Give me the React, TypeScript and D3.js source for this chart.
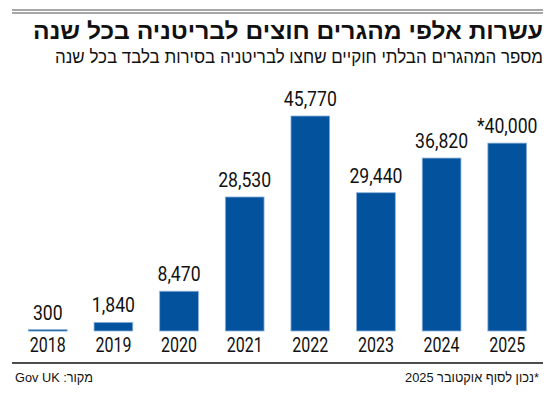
import React from 'react';
import * as d3 from 'd3';

// years on the x axis and migrants arriving by small boat
const years = ['2018', '2019', '2020', '2021', '2022', '2023', '2024', '2025'];
const migrants = [300, 1840, 8470, 28530, 45770, 29440, 36820, 40000];
const valueLabels = ['300', '1,840', '8,470', '28,530', '45,770', '29,440', '36,820', '*40,000'];

const title = 'עשרות אלפי מהגרים חוצים לבריטניה בכל שנה';
const subtitle = 'מספר המהגרים הבלתי חוקיים שחצו לבריטניה בסירות בלבד בכל שנה';
const source = 'Gov UK :מקור';
const note = '*נכון לסוף אוקטובר 2025';

const width = 550;
const height = 396;
const hebrew = '"Liberation Sans", "DejaVu Sans", sans-serif';
const digits = 'Roboto, "Liberation Sans", sans-serif';

function App() {
  const x = d3
    .scaleBand<string>()
    .domain(years)
    .range([12, 543])
    .paddingInner(0.41)
    .paddingOuter(0.25);

  const y = d3
    .scaleLinear()
    .domain([0, d3.max(migrants) as number])
    .range([331, 116]);

  return (
    <svg
      width={width}
      height={height}
      style={{ position: 'absolute', left: 0, top: 0, background: '#fff' }}
    >
      {/* top double rule */}
      <line x1={12} x2={543} y1={10} y2={10} stroke="#8a8a8a" strokeWidth={1.5} />
      <line x1={12} x2={543} y1={13} y2={13} stroke="#8a8a8a" strokeWidth={1.5} />

      <text
        x={543}
        y={39}
        textAnchor="end"
        fontFamily={hebrew}
        fontWeight="bold"
        fontSize={23}
        textLength={510}
        lengthAdjust="spacingAndGlyphs"
        fill="#111"
      >
        {title}
      </text>
      <text
        x={543}
        y={63}
        textAnchor="end"
        fontFamily={hebrew}
        fontSize={18}
        textLength={488}
        lengthAdjust="spacingAndGlyphs"
        fill="#111"
      >
        {subtitle}
      </text>

      {migrants.map((v, i) => {
        const yr = years[i];
        const cx = (x(yr) as number) + x.bandwidth() / 2;
        const top = y(v);
        return (
          <g key={yr}>
            <rect
              x={x(yr)}
              y={top}
              width={x.bandwidth()}
              height={Math.max(1.5, y(0) - top)}
              fill="#02529e"
              stroke="#8db2dc"
              strokeWidth={0.8}
            />
            <text
              transform={`translate(${cx},${top - 10}) scale(0.84,1)`}
              textAnchor="middle"
              fontFamily={digits}
              fontSize={21}
              fill="#111"
            >
              {valueLabels[i]}
            </text>
            <text
              transform={`translate(${cx},352) scale(0.8,1)`}
              textAnchor="middle"
              fontFamily={digits}
              fontSize={20}
              fill="#111"
            >
              {yr}
            </text>
          </g>
        );
      })}

      {/* bottom rule */}
      <line x1={12} x2={543} y1={363} y2={363} stroke="#111" strokeWidth={1.5} />

      <text
        x={15}
        y={382}
        textAnchor="start"
        fontFamily={hebrew}
        fontSize={13.5}
        textLength={78}
        lengthAdjust="spacingAndGlyphs"
        fill="#111"
      >
        {source}
      </text>
      <text
        x={539}
        y={382}
        direction="rtl"
        textAnchor="start"
        fontFamily={hebrew}
        fontSize={13.5}
        textLength={134}
        lengthAdjust="spacingAndGlyphs"
        fill="#111"
      >
        {note}
      </text>
    </svg>
  );
}

export default App;
